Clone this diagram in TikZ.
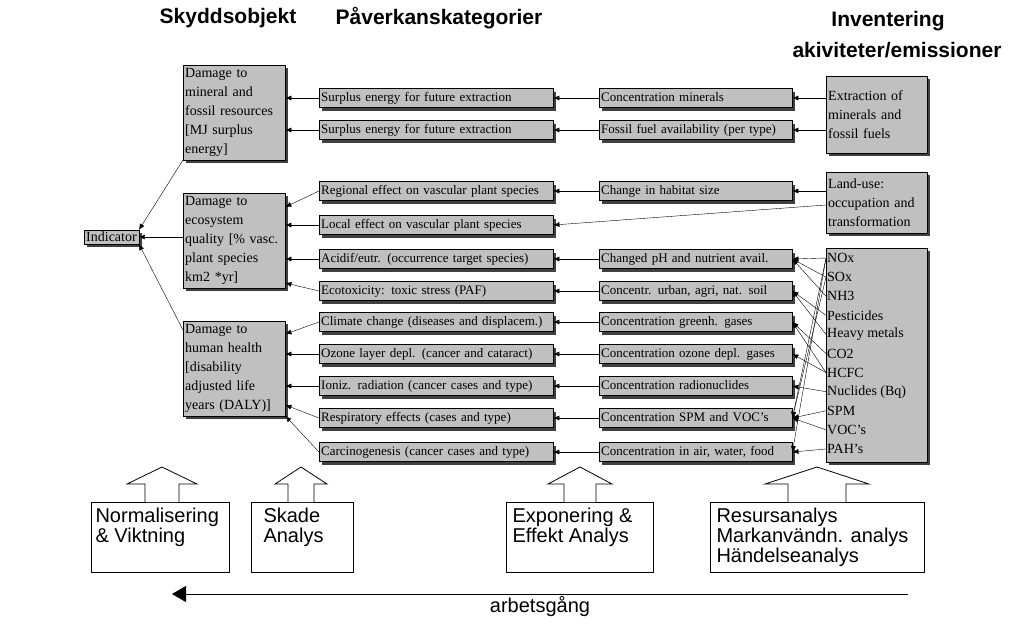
\documentclass[tikz,border=0pt]{standalone}
\usepackage{fontspec}
\setmainfont{Liberation Serif}
\setsansfont{Liberation Sans}
\usepackage{tikz}
\usetikzlibrary{arrows.meta,shadows,positioning}
\definecolor{boxgray}{RGB}{192,192,192}
\tikzset{
  gbox/.style={draw,fill=boxgray,drop shadow={shadow xshift=3pt,shadow yshift=-3pt,fill=black!75,opacity=1},
    inner sep=2pt,font=\fontsize{14}{19}\selectfont,align=left},
  rowbox/.style={gbox,anchor=west,minimum height=19pt,text height=10pt,text depth=3pt,
    font=\fontsize{13}{19}\selectfont},
  effbox/.style={rowbox,text width=230pt},
  midbox/.style={rowbox,text width=189pt},
  dambox/.style={gbox,anchor=north west,text width=98pt,minimum height=95pt},
  emtext/.style={anchor=west,inner sep=1pt,font=\fontsize{14}{19}\selectfont},
  title/.style={font=\sffamily\bfseries\fontsize{21}{26}\selectfont},
  callout/.style={draw,fill=white,thick},
  calltext/.style={font=\sffamily\fontsize{20}{20}\selectfont,align=left,anchor=north west},
  link/.style={-{Latex[length=6pt,width=5pt]}}
}
\begin{document}
\begin{tikzpicture}[x=1pt,y=-1pt]
\useasboundingbox (0,0) rectangle (1024,629);

% titles
\node[title] (t1) at (228,18) {Skyddsobjekt};
\node[title] (t2) at (439,18) {Påverkanskategorier};
\node[title] (t3) at (888,21) {Inventering};
\node[title] (t4) at (897,50) {akiviteter/emissioner};

% indicator and damage categories
\node[gbox,anchor=west] (ind) at (84,237) {Indicator};
\node[dambox] (d1) at (183,65) {Damage to\\mineral and\\fossil resources\\{}[MJ surplus\\energy]};
\node[dambox] (d2) at (183,193) {Damage to\\ecosystem\\quality [\% vasc.\\plant species\\*km2 *yr]};
\node[dambox] (d3) at (183,321) {Damage to\\human health\\{}[disability\\adjusted life\\years (DALY)]};

% effect categories
\node[effbox] (p1) at (319,98) {Surplus energy for future extraction};
\node[effbox] (p2) at (319,130) {Surplus energy for future extraction};
\node[effbox] (p3) at (319,191) {Regional effect on vascular plant species};
\node[effbox] (p4) at (319,225) {Local effect on vascular plant species};
\node[effbox] (p5) at (319,259) {Acidif/eutr. (occurrence target species)};
\node[effbox] (p6) at (319,291) {Ecotoxicity: toxic stress (PAF)};
\node[effbox] (p7) at (319,322) {Climate change (diseases and displacem.)};
\node[effbox] (p8) at (319,354) {Ozone layer depl. (cancer and cataract)};
\node[effbox] (p9) at (319,386) {Ioniz. radiation (cancer cases and type)};
\node[effbox] (p10) at (319,418) {Respiratory effects (cases and type)};
\node[effbox] (p11) at (319,452) {Carcinogenesis (cancer cases and type)};

% fate and exposure
\node[midbox] (c1) at (599,98) {Concentration minerals};
\node[midbox] (c2) at (599,130) {Fossil fuel availability (per type)};
\node[midbox] (c3) at (599,191) {Change in habitat size};
\node[midbox] (c5) at (599,259) {Changed pH and nutrient avail.};
\node[midbox] (c6) at (599,291) {Concentr. urban, agri, nat. soil};
\node[midbox] (c7) at (599,322) {Concentration greenh. gases};
\node[midbox] (c8) at (599,354) {Concentration ozone depl. gases};
\node[midbox] (c9) at (599,386) {Concentration radionuclides};
\node[midbox] (c10) at (599,418) {Concentration SPM and VOC's};
\node[midbox] (c11) at (599,452) {Concentration in air, water, food};

% inventory
\node[gbox,anchor=north west,text width=97pt,minimum height=77pt] (ex) at (826,76) {Extraction of\\minerals and\\fossil fuels};
\node[gbox,anchor=north west,text width=97pt,minimum height=61pt] (lu) at (826,172) {Land-use:\\occupation and\\transformation};
\node[gbox,anchor=north west,minimum width=101pt,minimum height=214pt] (em) at (826,248) {};
\foreach \t [count=\i] in {NOx,SOx,NH3,Pesticides,Heavy metals,CO2,HCFC,Nuclides (Bq),SPM,VOC's,PAH's}
  \node[emtext] (e\i) at (826,{258+19.1*(\i-1)}) {\t};

% links
\draw[link] (d1.west |- 0,160) -- (ind.north east);
\draw[link] (d2.west |- ind) -- (ind.east);
\draw[link] (d3.west |- 0,330) -- (ind.south east);
\foreach \p/\y/\d in {p1/98/d1,p2/130/d1,p3/207/d2,p4/225/d2,p5/259/d2,p6/283/d2,p7/334/d3,p8/354/d3,p9/386/d3,p10/405/d3,p11/416/d3}
  \draw[link] (\p.west) -- (\d.east |- 0,\y);
\foreach \c/\p in {c1/p1,c2/p2,c3/p3,c5/p5,c6/p6,c7/p7,c8/p8,c9/p9,c10/p10,c11/p11}
  \draw[link] (\c.west) -- (\p.east);
\draw[link] (ex.west |- c1) -- (c1.east);
\draw[link] (ex.west |- c2) -- (c2.east);
\draw[link] (lu.west |- c3) -- (c3.east);
\draw[link] (lu.west |- 0,205) -- (p4.east);
\foreach \e/\c in {e1/c5,e2/c5,e3/c5,e4/c6,e5/c6,e6/c7,e7/c7,e7/c8,e8/c9,e9/c10,e10/c10,e11/c11,e1/c10,e2/c10,e1/c11}
  \draw[link] (\e.west) -- (\c.east);

% process steps
\foreach \bx/\bw/\ax/\hw/\sw in {91/138/162/35/17,251/102/301/26/13,506/147/580/32/16,710/214/817/52/29}{
  \draw[callout] (\bx,502) rectangle ++(\bw,70);
  \draw[callout] (\ax-\sw,502) -- (\ax-\sw,484) -- (\ax-\hw,484) -- (\ax,467)
    -- (\ax+\hw,484) -- (\ax+\sw,484) -- (\ax+\sw,502);
}
\node[calltext] (s1) at (92,504) {Normalisering\\\& Viktning};
\node[calltext] (s2) at (260,504) {Skade\\Analys};
\node[calltext] (s3) at (509,504) {Exponering \&\\Effekt Analys};
\node[calltext] (s4) at (713,504) {Resursanalys\\Markanvändn. analys\\Händelseanalys};

% work direction
\coordinate (w1) at (908,594);
\coordinate (w2) at (172,594);
\draw[thick,-{Triangle[length=14pt,width=16pt]}] (w1) -- (w2);
\node[font=\sffamily\fontsize{20}{24}\selectfont] (wl) at (540,607) {arbetsgång};
\end{tikzpicture}
\end{document}
